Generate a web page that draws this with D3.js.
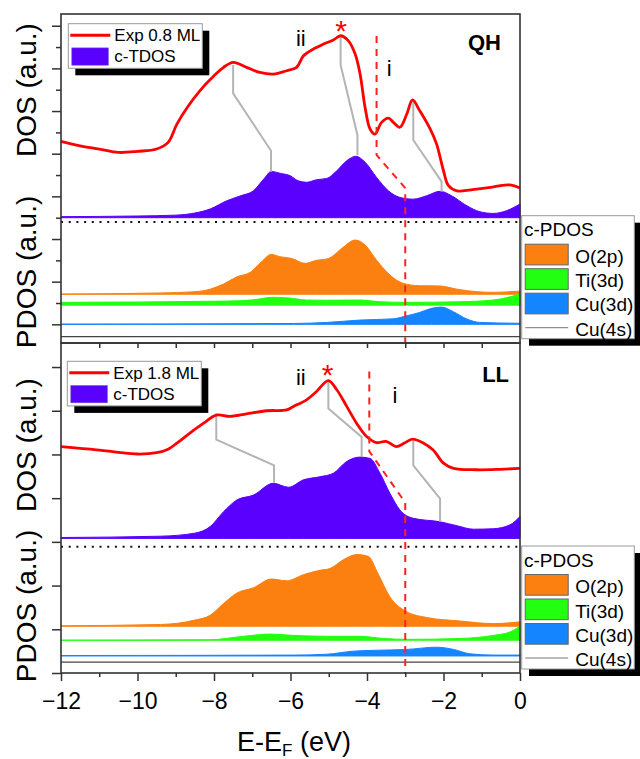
<!DOCTYPE html>
<html>
<head>
<meta charset="utf-8">
<script src="https://cdn.jsdelivr.net/npm/d3@7"></script>
<style>
body { margin: 0; background: #fff; }
text { font-family: "Liberation Sans", Arial, sans-serif; }
</style>
</head>
<body>
<div id="graph_draw"></div>
<script>
// ---- data: energy (eV), intensity in the panel's own a.u. ----
var xMajor = [-12, -10, -8, -6, -4, -2, 0];
var xMinor = [-11, -9, -7, -5, -3, -1];

// QH panel (0.8 ML)
var expQH = [[-12,8.58],[-11.5,8.37],[-11,8.22],[-10.5,8.06],[-10,8.11],[-9.5,8.22],[-9.2,8.53],[-8.97,9.39],[-8.7,10.17],[-8.37,10.95],[-8.0,11.65],[-7.75,12.05],[-7.5,12.28],[-7.15,12.05],[-6.8,11.81],[-6.45,11.73],[-6.1,11.89],[-5.84,12.05],[-5.66,12.59],[-5.4,12.91],[-5.14,13.14],[-4.88,13.33],[-4.69,13.53],[-4.49,13.3],[-4.31,12.67],[-4.18,11.73],[-4.05,10.17],[-3.92,9.16],[-3.79,8.92],[-3.62,9.47],[-3.44,9.67],[-3.31,9.47],[-3.14,9.24],[-2.96,9.86],[-2.81,10.52],[-2.62,10.01],[-2.35,9.16],[-2.18,8.45],[-2.0,7.2],[-1.87,6.5],[-1.65,6.26],[-1.13,6.34],[-0.69,6.45],[-0.26,6.54],[0,6.39]];
var tdosQH = [[-12,5.05],[-10,5.08],[-9,5.12],[-8.5,5.22],[-8.1,5.41],[-7.67,5.79],[-7.3,6.03],[-6.97,6.26],[-6.7,6.81],[-6.5,7.17],[-6.27,7.08],[-6.01,6.97],[-5.8,6.73],[-5.58,6.66],[-5.32,6.78],[-5.05,6.84],[-4.79,7.2],[-4.53,7.67],[-4.29,7.88],[-4.05,7.6],[-3.75,6.89],[-3.44,6.26],[-3.14,5.95],[-2.79,5.87],[-2.44,6.03],[-2.09,6.24],[-1.79,6.03],[-1.39,5.56],[-1.05,5.28],[-0.7,5.2],[-0.35,5.33],[0,5.64]];
var o2pQH = [[-12,1.42],[-9.4,1.47],[-8.5,1.53],[-8.1,1.65],[-7.75,1.89],[-7.4,2.23],[-7.05,2.44],[-6.8,2.86],[-6.5,3.28],[-6.27,3.17],[-5.97,3.09],[-5.62,2.86],[-5.32,3.0],[-5.0,3.09],[-4.66,3.56],[-4.31,3.95],[-4.05,3.72],[-3.75,3.01],[-3.4,2.31],[-3.05,1.92],[-2.62,1.81],[-2.09,1.8],[-1.65,1.65],[-1.13,1.53],[-0.7,1.5],[0,1.56]];
var ti3dQH = [[-12,1.03],[-7.67,1.09],[-6.97,1.15],[-6.45,1.27],[-6.01,1.23],[-5.58,1.14],[-5.05,1.13],[-4.18,1.14],[-3.66,1.06],[-2.96,1.03],[-1.57,1.06],[-0.7,1.14],[-0.26,1.29],[0,1.42]];
var cu3dQH = [[-12,0.01],[-5.93,0.04],[-5.05,0.09],[-4.18,0.2],[-3.31,0.26],[-2.96,0.4],[-2.62,0.56],[-2.31,0.75],[-2.05,0.81],[-1.74,0.59],[-1.39,0.25],[-1.05,0.09],[0,0.05]];
var baseQH = {tdos: 5.0, o2p: 1.41, ti3d: 0.9, cu3d: 0.0, cu4s: -0.58, dots: 4.8};
var linksQH = [
  [[-7.5,12.16],[-7.5,10.83],[-6.51,8.14],[-6.51,7.15]],
  [[-4.69,13.52],[-4.69,12.16],[-4.25,8.87],[-4.25,7.94]],
  [[-2.79,10.52],[-2.79,8.64],[-2.05,6.69],[-2.05,6.22]]
];
var dashQH = [[-3.75,13.52],[-3.75,7.94],[-3.0,6.39],[-3.0,-0.875]];
var notesQH = [["ii",-5.73,13.05],["*",-4.68,13.28],["i",-3.42,11.64],["QH",-1.36,12.86]];

// LL panel (1.8 ML)
var expLL = [[-12,5.18],[-11.5,5.14],[-11,5.1],[-10.5,5.05],[-10,5.01],[-9.5,5.04],[-9.2,5.12],[-8.97,5.26],[-8.63,5.49],[-8.28,5.71],[-7.94,5.9],[-7.58,5.87],[-7.15,5.93],[-6.62,6.0],[-6.1,6.02],[-5.92,6.1],[-5.58,6.25],[-5.32,6.44],[-5.01,6.69],[-4.79,6.48],[-4.53,6.1],[-4.27,5.71],[-4.01,5.41],[-3.75,5.27],[-3.5,5.3],[-3.24,5.18],[-3.02,5.26],[-2.81,5.35],[-2.53,5.26],[-2.27,5.1],[-2.0,4.8],[-1.74,4.68],[-1.13,4.65],[-0.52,4.66],[0,4.68]];
var tdosLL = [[-12,3.1],[-9.4,3.13],[-8.5,3.2],[-8.1,3.35],[-7.75,3.69],[-7.4,3.96],[-6.97,4.07],[-6.45,4.34],[-6.05,4.25],[-5.66,4.42],[-5.23,4.49],[-4.88,4.57],[-4.53,4.84],[-4.18,4.94],[-3.92,4.91],[-3.66,4.57],[-3.4,4.11],[-3.14,3.73],[-2.79,3.54],[-2.09,3.46],[-1.65,3.37],[-1.22,3.29],[-0.7,3.3],[-0.26,3.39],[0,3.58]];
var o2pLL = [[-12,1.08],[-9.4,1.11],[-8.5,1.21],[-8.1,1.32],[-7.75,1.59],[-7.4,1.83],[-6.97,1.95],[-6.5,2.15],[-6.1,2.11],[-5.66,2.25],[-5.23,2.35],[-4.97,2.39],[-4.62,2.59],[-4.27,2.71],[-3.97,2.67],[-3.71,2.27],[-3.4,1.74],[-3.0,1.42],[-2.44,1.27],[-1.57,1.19],[-0.7,1.13],[0,1.17]];
var ti3dLL = [[-12,0.75],[-8.1,0.76],[-7.23,0.84],[-6.53,0.89],[-5.93,0.86],[-5.05,0.84],[-4.18,0.84],[-3.57,0.79],[-2.87,0.77],[-1.57,0.79],[-0.7,0.86],[-0.26,0.94],[0,1.07]];
var cu3dLL = [[-12,0.4],[-5.93,0.41],[-5.05,0.43],[-4.36,0.5],[-3.75,0.52],[-2.96,0.54],[-2.18,0.59],[-1.74,0.54],[-1.31,0.44],[-0.7,0.41],[0,0.41]];
var baseLL = {tdos: 3.08, o2p: 1.07, ti3d: 0.75, cu3d: 0.39, cu4s: 0.25, dots: 2.89};
var linksLL = [
  [[-7.94,5.94],[-7.94,5.34],[-6.43,4.75],[-6.43,4.35]],
  [[-5.01,6.68],[-5.01,6.05],[-4.14,5.4],[-4.14,4.94]],
  [[-2.79,5.32],[-2.79,4.75],[-2.09,3.99],[-2.09,3.46]]
];
var dashLL = [[-3.94,6.9],[-3.94,5.07],[-3.0,3.9],[-3.0,0]];
var notesLL = [["ii",-5.73,6.58],["*",-5.03,6.6],["i",-3.27,6.17],["LL",-0.99,6.65]];

var pdosNames = ["O(2p)", "Ti(3d)", "Cu(3d)", "Cu(4s)"];

// ---- colours ----
var cExp = "#ff0000", cTdos = "#5a00ff", cO = "#fb800f", cTi = "#22ff10", cCu = "#1584ff", cGray = "#b4b4b4";

var svg = d3.select("#graph_draw").append("svg")
    .attr("width", 640)
    .attr("height", 759);

var x = d3.scaleLinear().domain([-12, 0]).range([61, 520]);
var yQH = d3.scaleLinear().domain([-0.875, 14.55]).range([343, 14]);
var yLL = d3.scaleLinear().domain([0, 7.55]).range([673, 343]);

function drawPanel(y, d, legendTop, dosLegendTop, expName) {
    var g = svg.append("g");
    var area = function(base) {
        return d3.area().x(function(p) { return x(p[0]); })
            .y0(y(base)).y1(function(p) { return y(p[1]); })
            .curve(d3.curveMonotoneX);
    };
    var line = d3.line().x(function(p) { return x(p[0]); }).y(function(p) { return y(p[1]); });

    // filled DFT curves
    [[d.tdos, d.base.tdos, cTdos], [d.o2p, d.base.o2p, cO], [d.ti3d, d.base.ti3d, cTi], [d.cu3d, d.base.cu3d, cCu]]
      .forEach(function(s) {
        g.append("path").datum(s[0]).attr("d", area(s[1]))
            .attr("fill", s[2]).attr("stroke", s[2]).attr("stroke-width", 1);
      });
    // Cu(4s) flat line
    g.append("path").datum([[-12, d.base.cu4s], [0, d.base.cu4s]])
        .attr("d", line).attr("stroke", "#444").attr("stroke-width", 1.2).attr("fill", "none");

    // dotted separator
    g.append("path").datum([[-12, d.base.dots], [0, d.base.dots]])
        .attr("d", line).attr("stroke", "#111").attr("stroke-width", 2)
        .attr("stroke-dasharray", "2,5.7").attr("fill", "none");

    // gray connectors
    d.links.forEach(function(l) {
        g.append("path").datum(l).attr("d", line)
            .attr("stroke", cGray).attr("stroke-width", 2).attr("fill", "none");
    });

    // experiment
    g.append("path").datum(d.exp)
        .attr("d", line.curve(d3.curveCatmullRom.alpha(0.5)))
        .attr("stroke", cExp).attr("stroke-width", 2.8).attr("fill", "none");
    line.curve(d3.curveLinear);

    // red dashed guide
    g.append("path").datum(d.dash).attr("d", line)
        .attr("stroke", "#ff2020").attr("stroke-width", 2)
        .attr("stroke-dasharray", "7,6").attr("fill", "none");

    // annotations
    d.notes.forEach(function(n) {
        var t = g.append("text").attr("x", x(n[1])).attr("y", y(n[2])).text(n[0]);
        if (n[0] == "*") t.attr("fill", cExp).attr("font-size", 30).attr("text-anchor", "middle");
        else if (n[0] == "QH" || n[0] == "LL") t.attr("font-size", 22).attr("font-weight", "bold");
        else t.attr("font-size", 22).attr("text-anchor", "middle");
    });

    // frame
    g.append("rect").attr("x", 61).attr("y", y.range()[1])
        .attr("width", 459).attr("height", y.range()[0] - y.range()[1])
        .attr("fill", "none").attr("stroke", "#333").attr("stroke-width", 1.6);

    // DOS legend
    var lg = g.append("g").attr("transform", "translate(" + dosLegendTop[0] + "," + dosLegendTop[1] + ")");
    lg.append("rect").attr("x", 7).attr("y", 7).attr("width", 134).attr("height", 44.6).attr("fill", "#000");
    lg.append("rect").attr("x", 0).attr("y", 0).attr("width", 134).attr("height", 44.6)
        .attr("fill", "#fff").attr("stroke", "#999").attr("stroke-width", 1);
    lg.append("line").attr("x1", 2).attr("x2", 42).attr("y1", 11.5).attr("y2", 11.5)
        .attr("stroke", cExp).attr("stroke-width", 3);
    lg.append("text").attr("x", 46).attr("y", 17.5).attr("font-size", 17).text(expName);
    lg.append("rect").attr("x", 3.5).attr("y", 24.2).attr("width", 36.5).attr("height", 17.3)
        .attr("fill", cTdos).attr("stroke", "#6a5acd").attr("stroke-width", 0.6);
    lg.append("text").attr("x", 46).attr("y", 38.7).attr("font-size", 17).text("c-TDOS");

    // PDOS legend
    var pg = g.append("g").attr("transform", "translate(521.7," + legendTop + ")");
    pg.append("rect").attr("x", 7.3).attr("y", 7).attr("width", 120).attr("height", 123).attr("fill", "#000");
    pg.append("rect").attr("x", 0).attr("y", 0).attr("width", 112.6).attr("height", 123)
        .attr("fill", "#fff").attr("stroke", "#999").attr("stroke-width", 1);
    pg.append("text").attr("x", 2.3).attr("y", 20.5).attr("font-size", 19).text("c-PDOS");
    [cO, cTi, cCu].forEach(function(c, i) {
        pg.append("rect").attr("x", 3.5).attr("y", 28.5 + i * 24.5).attr("width", 43).attr("height", 20.7)
            .attr("fill", c).attr("stroke", "#666").attr("stroke-width", 1);
    });
    pg.append("line").attr("x1", 3.5).attr("x2", 46.5).attr("y1", 112).attr("y2", 112)
        .attr("stroke", "#777").attr("stroke-width", 1);
    pdosNames.forEach(function(nm, i) {
        pg.append("text").attr("x", 53.5).attr("y", 47.3 + i * 24.2).attr("font-size", 19).text(nm);
    });
    return g;
}

drawPanel(yQH, {exp: expQH, tdos: tdosQH, o2p: o2pQH, ti3d: ti3dQH, cu3d: cu3dQH, base: baseQH,
    links: linksQH, dash: dashQH, notes: notesQH}, 215.7, [68.3, 23.7], "Exp 0.8 ML");
drawPanel(yLL, {exp: expLL, tdos: tdosLL, o2p: o2pLL, ti3d: ti3dLL, cu3d: cu3dLL, base: baseLL,
    links: linksLL, dash: dashLL, notes: notesLL}, 546, [67.3, 361.3], "Exp 1.8 ML");

// ---- axes ----
function styleAxis(g) {
    g.select(".domain").remove();
    g.selectAll(".tick line").attr("stroke", "#333").attr("stroke-width", 1.5);
}
// left axes
svg.append("g").attr("transform", "translate(61,0)")
    .call(d3.axisLeft(yQH).tickValues([0, 2, 4, 6, 8, 10, 12, 14]).tickSize(9).tickFormat(""))
    .call(styleAxis);
svg.append("g").attr("transform", "translate(61,0)")
    .call(d3.axisLeft(yQH).tickValues([1, 3, 5, 7, 9, 11, 13]).tickSize(5).tickFormat(""))
    .call(styleAxis);
svg.append("g").attr("transform", "translate(61,0)")
    .call(d3.axisLeft(yLL).tickValues([0, 1, 2, 3, 4, 5, 6, 7]).tickSize(9).tickFormat(""))
    .call(styleAxis);

// ticks between the panels
svg.append("g").attr("transform", "translate(0,343)")
    .call(d3.axisBottom(x).tickValues(d3.range(-11, 0)).tickSize(5).tickFormat(""))
    .call(styleAxis);

// bottom axis
var xa = svg.append("g").attr("transform", "translate(0,673)")
    .call(d3.axisBottom(x).tickValues(xMajor).tickSize(8).tickPadding(12).tickFormat(d3.format("d")))
    .call(styleAxis);
xa.selectAll("text").attr("font-size", 23).attr("fill", "#000")
    .attr("font-family", "'Liberation Sans', Arial, sans-serif");
svg.append("g").attr("transform", "translate(0,673)")
    .call(d3.axisBottom(x).tickValues(xMinor).tickSize(4).tickFormat(""))
    .call(styleAxis);

// axis titles
var xt = svg.append("text").attr("x", 237).attr("y", 751).attr("font-size", 27);
xt.append("tspan").text("E-E");
xt.append("tspan").attr("font-size", 17).attr("dy", 5).text("F");
xt.append("tspan").attr("dy", -5).text(" (eV)");

[["DOS (a.u.)", 90], ["PDOS (a.u.)", 272], ["DOS (a.u.)", 445], ["PDOS (a.u.)", 606]].forEach(function(t) {
    svg.append("text")
        .attr("transform", "translate(35.5," + t[1] + ") rotate(-90)")
        .attr("text-anchor", "middle").attr("font-size", 28).text(t[0]);
});
</script>
</body>
</html>
